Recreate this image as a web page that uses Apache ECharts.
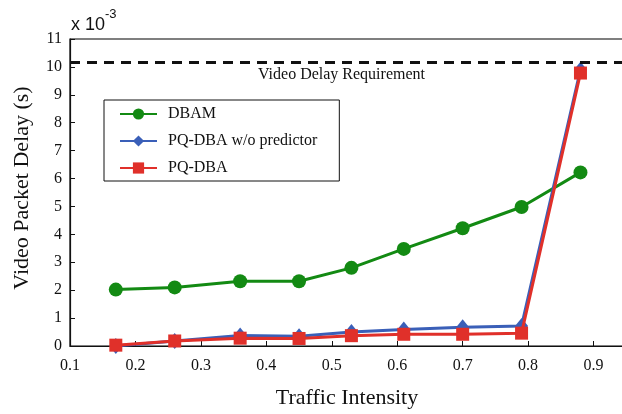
<!DOCTYPE html>
<html>
<head>
<meta charset="utf-8">
<script src="https://cdn.jsdelivr.net/npm/echarts@6/dist/echarts.min.js"></script>
<style>html,body{margin:0;padding:0;background:#fff;overflow:hidden;width:622px;height:414px}#c{width:680px;height:414px}</style>
</head>
<body>
<div id="c"></div>
<script>
const traffic = [0.17, 0.26, 0.36, 0.45, 0.53, 0.61, 0.70, 0.79, 0.88];
const dbam = [2.02, 2.10, 2.32, 2.32, 2.80, 3.48, 4.22, 4.98, 6.22];
const pqNoPred = [0.00, 0.18, 0.38, 0.35, 0.50, 0.59, 0.67, 0.72, 9.90];
const pqDba = [0.03, 0.18, 0.28, 0.27, 0.37, 0.42, 0.42, 0.46, 9.78];
const requirement = 10.17;
const seriesNames = ['DBAM', 'PQ-DBA w/o predictor', 'PQ-DBA'];
const xTicks = [0.1, 0.2, 0.3, 0.4, 0.5, 0.6, 0.7, 0.8, 0.9];
const yTicks = [0, 1, 2, 3, 4, 5, 6, 7, 8, 9, 10, 11];

const pair = (xs, ys) => xs.map((x, i) => [x, ys[i]]);
const serif = '"Liberation Serif", "Times New Roman", serif';
const sans = '"Liberation Sans", Arial, sans-serif';

const chart = echarts.init(document.getElementById('c'), null, {renderer: 'canvas'});
chart.setOption({
  animation: false,
  backgroundColor: '#fff',
  title: {
    text: '{a|x 10}{b|-3}',
    left: 66, top: 3,
    textStyle: {
      rich: {
        a: {fontFamily: sans, fontSize: 18, fontWeight: 'normal', color: '#111', padding: [8, 0, 0, 0]},
        b: {fontFamily: sans, fontSize: 13, fontWeight: 'normal', color: '#111', verticalAlign: 'top', padding: [0, 0, 8, 0]}
      }
    }
  },
  grid: {left: 70, width: 589, top: 39, bottom: 66, show: true, borderColor: '#000', borderWidth: 1.2, containLabel: false},
  legend: {
    orient: 'vertical',
    left: 104, top: 100,
    padding: [6, 22, 5, 15],
    itemGap: 11,
    itemWidth: 37, itemHeight: 14,
    borderColor: '#111', borderWidth: 1,
    backgroundColor: '#fff',
    data: seriesNames,
    textStyle: {fontFamily: serif, fontSize: 16, color: '#111', padding: [0, 0, 0, 6]}
  },
  xAxis: {
    type: 'value', min: 0.1, max: 1.0, interval: 0.1,
    name: 'Traffic Intensity', nameLocation: 'middle', nameGap: 41,
    nameTextStyle: {fontFamily: serif, fontSize: 22, color: '#111', padding: [0, 35, 0, 0]},
    axisLine: {show: true, lineStyle: {color: '#111', width: 1.2}},
    axisTick: {show: true, inside: true, length: 5, lineStyle: {color: '#111'}},
    axisLabel: {fontFamily: serif, fontSize: 16, color: '#111', margin: 12,
      formatter: v => { const r = Math.round(v * 10) / 10; return xTicks.includes(r) ? r.toFixed(1) : ''; }},
    splitLine: {show: false}
  },
  yAxis: {
    type: 'value', min: 0, max: 11, interval: 1,
    name: 'Video Packet Delay (s)', nameLocation: 'middle', nameGap: 37,
    nameTextStyle: {fontFamily: serif, fontSize: 22, color: '#111', padding: [0, 0, 0, 9]},
    axisLine: {show: true, lineStyle: {color: '#111', width: 1.2}},
    axisTick: {show: true, inside: true, length: 5, lineStyle: {color: '#111'}},
    axisLabel: {fontFamily: serif, fontSize: 16, color: '#111', margin: 8,
      formatter: v => yTicks.includes(v) ? String(v) : ''},
    splitLine: {show: false}
  },
  graphic: [{
    type: 'text', left: 258, top: 67,
    style: {text: 'Video Delay Requirement', font: '16px ' + serif, fill: '#111'}
  }],
  series: [
    {
      name: seriesNames[0], type: 'line', data: pair(traffic, dbam),
      symbol: 'circle', symbolSize: 14,
      lineStyle: {color: '#138a13', width: 3},
      itemStyle: {color: '#138a13'},
      markLine: {
        silent: true, symbol: 'none', label: {show: false},
        lineStyle: {color: '#111', type: [10, 7], width: 3},
        data: [{yAxis: requirement}]
      },
      z: 2
    },
    {
      name: seriesNames[1], type: 'line', data: pair(traffic, pqNoPred),
      symbol: 'diamond', symbolSize: [13, 16],
      lineStyle: {color: '#3a5fb8', width: 3},
      itemStyle: {color: '#3a5fb8'},
      z: 3
    },
    {
      name: seriesNames[2], type: 'line', data: pair(traffic, pqDba),
      symbol: 'rect', symbolSize: 13,
      lineStyle: {color: '#e0302a', width: 3},
      itemStyle: {color: '#e0302a'},
      z: 4
    }
  ]
});
</script>
</body>
</html>
